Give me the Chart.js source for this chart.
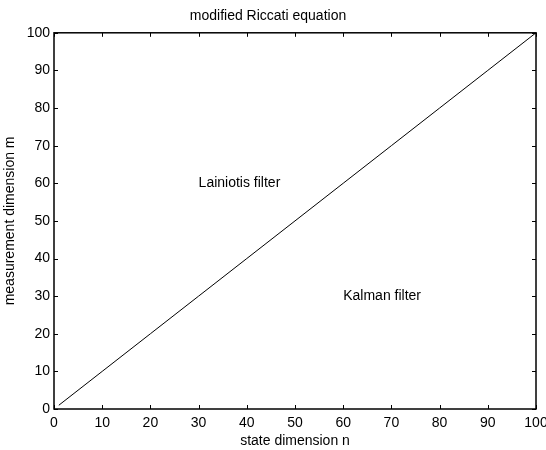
<!DOCTYPE html>
<html>
<head>
<meta charset="utf-8">
<script src="https://cdn.jsdelivr.net/npm/chart.js@4.4.1/dist/chart.umd.min.js"></script>
<style>
  html, body { margin: 0; padding: 0; background: #fff; }
  #chart { display: block; }
</style>
</head>
<body>
<canvas id="chart" width="546" height="450"></canvas>
<script>
  // state dimension n vs measurement dimension m (boundary line)
  const stateDim = [1, 10, 20, 30, 40, 50, 60, 70, 80, 90, 100];
  const measDim = [1, 10, 20, 30, 40, 50, 60, 70, 80, 90, 100];
  const tickValues = [0, 10, 20, 30, 40, 50, 60, 70, 80, 90, 100];

  // region labels
  const regionNames = ["Lainiotis filter", "Kalman filter"];
  const regionX = [30, 60];
  const regionY = [60, 30];

  const font = "'Liberation Sans', Arial, sans-serif";
  Chart.defaults.font.family = font;
  Chart.defaults.font.size = 14;
  Chart.defaults.color = "#000";

  // box round the axes, inward ticks on all sides, region texts
  const boxPlugin = {
    id: "box",
    afterDatasetsDraw(chart) {
      const { ctx, chartArea: a, scales } = chart;
      ctx.save();
      ctx.strokeStyle = "#000";
      ctx.lineWidth = 1;
      ctx.beginPath();
      tickValues.forEach((v) => {
        const x = Math.round(scales.x.getPixelForValue(v)) + 0.5;
        ctx.moveTo(x, a.bottom);
        ctx.lineTo(x, a.bottom - 4);
        ctx.moveTo(x, a.top);
        ctx.lineTo(x, a.top + 4);
        const y = Math.round(scales.y.getPixelForValue(v)) + 0.5;
        ctx.moveTo(a.left, y);
        ctx.lineTo(a.left + 4, y);
        ctx.moveTo(a.right, y);
        ctx.lineTo(a.right - 4, y);
      });
      ctx.stroke();
      ctx.lineWidth = 1.5;
      ctx.strokeRect(a.left, a.top, a.right - a.left, a.bottom - a.top);

      ctx.fillStyle = "#000";
      ctx.font = "14px " + font;
      ctx.textAlign = "left";
      ctx.textBaseline = "middle";
      regionNames.forEach((name, i) => {
        ctx.fillText(name, scales.x.getPixelForValue(regionX[i]), scales.y.getPixelForValue(regionY[i]));
      });
      ctx.restore();
    },
  };

  new Chart(document.getElementById("chart"), {
    type: "scatter",
    data: {
      datasets: [
        {
          data: stateDim.map((n, i) => ({ x: n, y: measDim[i] })),
          showLine: true,
          borderColor: "#000",
          borderWidth: 1,
          pointRadius: 0,
          tension: 0,
        },
      ],
    },
    options: {
      responsive: false,
      animation: false,
      layout: { padding: { left: 0, right: 10, top: 0, bottom: 0 } },
      plugins: {
        legend: { display: false },
        tooltip: { enabled: false },
        title: {
          display: true,
          text: "modified Riccati equation",
          color: "#000",
          font: { size: 14, weight: "normal" },
          padding: { top: 8, bottom: 8 },
        },
      },
      scales: {
        x: {
          type: "linear",
          min: 0,
          max: 100,
          grid: { display: false, drawTicks: false },
          border: { display: false },
          ticks: { stepSize: 10, padding: 6, color: "#000" },
          title: { display: true, text: "state dimension n", color: "#000", padding: { top: 0, bottom: 0 } },
          afterFit(s) {
            s.height = 41;
            s.paddingLeft = 0;
            s.paddingRight = 0;
          },
        },
        y: {
          type: "linear",
          min: 0,
          max: 100,
          grid: { display: false, drawTicks: false },
          border: { display: false },
          ticks: { stepSize: 10, padding: 4, color: "#000" },
          title: { display: true, text: "measurement dimension m", color: "#000", padding: { top: 2, bottom: 0 } },
          afterFit(s) {
            s.width = 54;
            s.paddingTop = 0;
            s.paddingBottom = 0;
          },
        },
      },
    },
    plugins: [boxPlugin],
  });
</script>
</body>
</html>
